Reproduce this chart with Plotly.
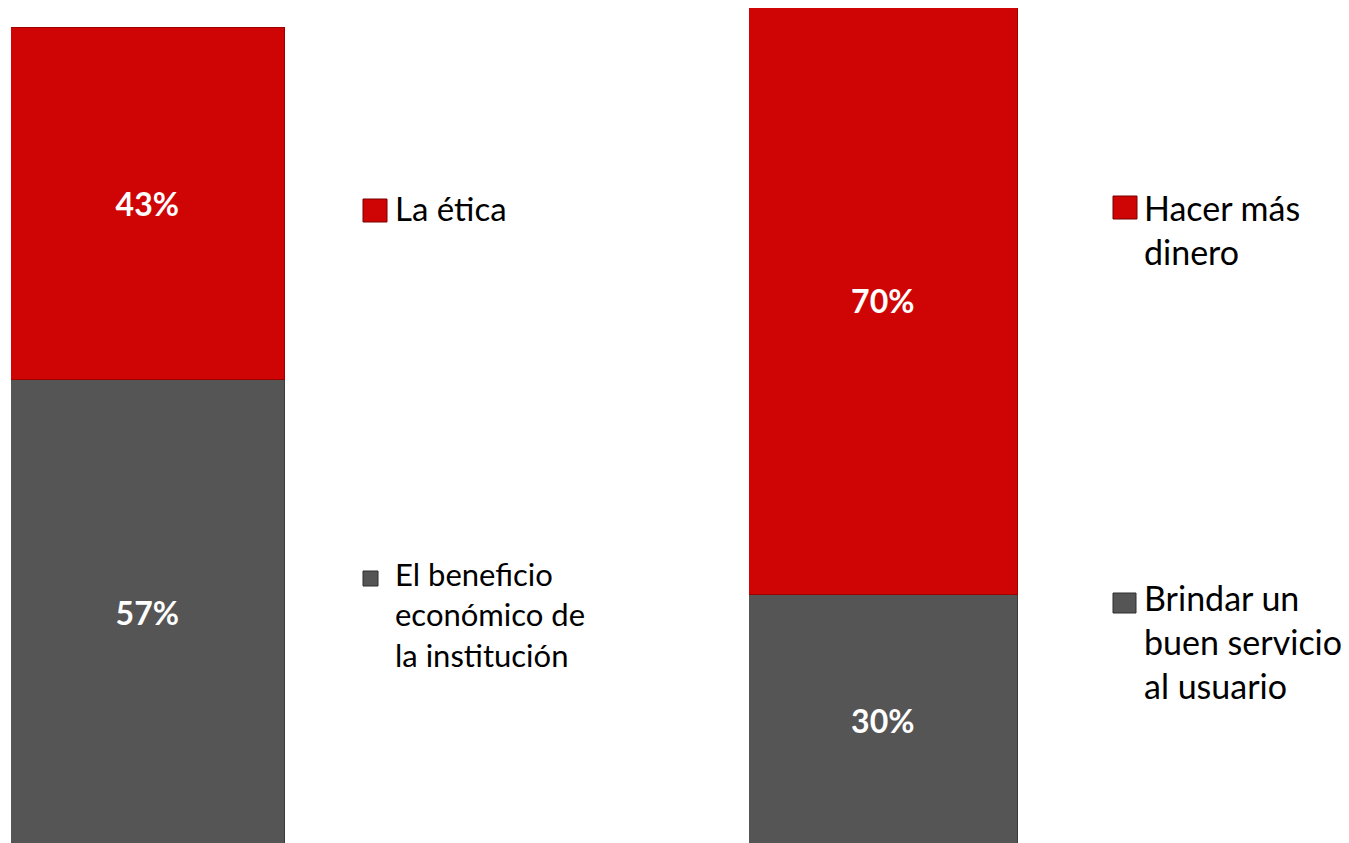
import textwrap
import plotly.graph_objects as go

# ---- data ----
left_names = ["La ética", "El beneficio económico de la institución"]
left_values = [43, 57]
right_names = ["Hacer más dinero", "Brindar un buen servicio al usuario"]
right_values = [70, 30]
colors = ["#CF0505", "#555555"]
edge = ["#9E0000", "#3A3A3A"]

W, H = 1349, 843
OFF = 8  # page body margin offset


def px(x):
    return (x - OFF) / W


def py(y):
    return 1 - (y - OFF) / H


fig = go.Figure()


def add_stack(names, values, xa, ya):
    for i in [1, 0]:
        fig.add_trace(go.Bar(
            x=[0], y=[values[i]], name=names[i],
            marker=dict(color=colors[i], line=dict(color=edge[i], width=1.5)),
            text=[f"{values[i]}%"], textposition="inside",
            insidetextanchor="middle",
            textfont=dict(family="Lato", size=32, color="white", weight="bold"),
            xaxis=xa, yaxis=ya, showlegend=False, width=1,
        ))


add_stack(left_names, left_values, "x", "y")
add_stack(right_names, right_values, "x2", "y2")

bottom = 847  # screen y of bar base (just below the visible area)
plot_h = bottom - OFF
ax = dict(showgrid=False, zeroline=False, showticklabels=False, showline=False,
          range=[-0.5, 0.5], fixedrange=True)
ay = dict(showgrid=False, zeroline=False, showticklabels=False, fixedrange=True,
          domain=[py(bottom), 1])
fig.update_layout(
    width=W, height=H, barmode="stack", bargap=0,
    margin=dict(l=0, r=0, t=0, b=0),
    paper_bgcolor="white", plot_bgcolor="rgba(0,0,0,0)",
    xaxis=dict(ax, domain=[px(11), px(285)]),
    xaxis2=dict(ax, domain=[px(749), px(1018)]),
    yaxis=dict(ay, range=[0, 100 * plot_h / (bottom - 28)]),
    yaxis2=dict(ay, range=[0, 100 * plot_h / (bottom - 8)], anchor="x2"),
    showlegend=False,
)


# ---- custom legends ----
def legend_item(name, color, bx0, by0, bx1, by1, tx, ty, fsize):
    fig.add_shape(type="rect", xref="paper", yref="paper",
                  x0=px(bx0), x1=px(bx1), y0=py(by1), y1=py(by0),
                  fillcolor=color,
                  line=dict(color="#7A0000" if color == colors[0] else "#2E2E2E", width=1))
    label = "<br>".join(textwrap.wrap(name, 14))
    fig.add_annotation(xref="paper", yref="paper", x=px(tx), y=py(ty),
                       xanchor="left", yanchor="top", align="left", showarrow=False,
                       text=label, font=dict(family="Lato", size=fsize, color="black"))


legend_item(left_names[0], colors[0], 363, 199, 387, 222, 393, 186, 33)
legend_item(left_names[1], colors[1], 363, 571, 378, 586, 393, 553, 31)
legend_item(right_names[0], colors[0], 1113, 196, 1137, 219, 1142, 185, 34)
legend_item(right_names[1], colors[1], 1113, 593, 1136, 613, 1142, 575, 34)

fig.write_html("out.html")
